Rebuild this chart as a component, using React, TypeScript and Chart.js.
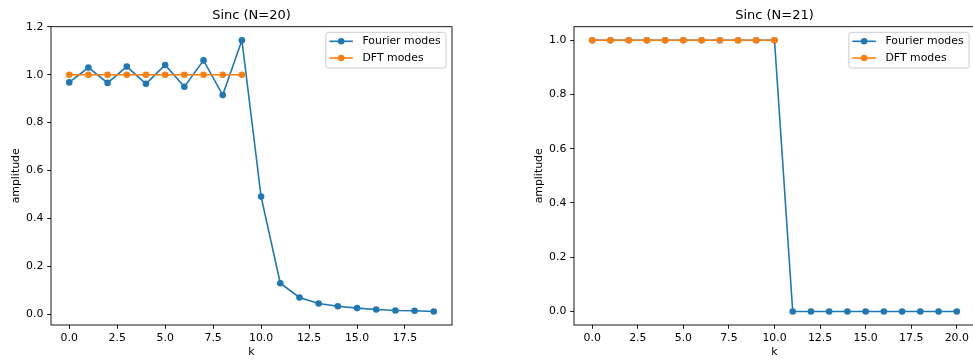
import React, { useEffect, useRef } from 'react';
import { Chart, registerables } from 'chart.js';

Chart.register(...registerables);

// ---- Data ---------------------------------------------------------------
// Sinc, N = 20
const kLeft = [0, 1, 2, 3, 4, 5, 6, 7, 8, 9, 10, 11, 12, 13, 14, 15, 16, 17, 18, 19];
const fourierLeft = [
  0.968, 1.03, 0.966, 1.034, 0.962, 1.041, 0.95, 1.06, 0.915, 1.144,
  0.491, 0.129, 0.0695, 0.0445, 0.033, 0.025, 0.0195, 0.015, 0.014, 0.011,
];
const dftKLeft = [0, 1, 2, 3, 4, 5, 6, 7, 8, 9];
const dftLeft = [1, 1, 1, 1, 1, 1, 1, 1, 1, 1];

// Sinc, N = 21
const kRight = [0, 1, 2, 3, 4, 5, 6, 7, 8, 9, 10, 11, 12, 13, 14, 15, 16, 17, 18, 19, 20];
const fourierRight = [1, 1, 1, 1, 1, 1, 1, 1, 1, 1, 1, 0, 0, 0, 0, 0, 0, 0, 0, 0, 0];
const dftKRight = [0, 1, 2, 3, 4, 5, 6, 7, 8, 9, 10];
const dftRight = [1, 1, 1, 1, 1, 1, 1, 1, 1, 1, 1];

// Tick positions
const leftXTicks = [0, 2.5, 5, 7.5, 10, 12.5, 15, 17.5];
const rightXTicks = [0, 2.5, 5, 7.5, 10, 12.5, 15, 17.5, 20];
const leftYTicks = [0, 0.2, 0.4, 0.6, 0.8, 1.0, 1.2];
const rightYTicks = [0, 0.2, 0.4, 0.6, 0.8, 1.0];

// ---- Style --------------------------------------------------------------
const BLUE = '#1f77b4';
const ORANGE = '#ff7f0e';
const FONT = '"DejaVu Sans", sans-serif';
const TICK_SIZE = 10.9;
const TITLE_SIZE = 13;
const CANVAS_W = 453;
const CANVAS_H = 360;

Chart.defaults.font.family = FONT;
Chart.defaults.color = '#000';

const toPoints = (xs: number[], ys: number[]) => xs.map((x, i) => ({ x, y: ys[i] }));

// Axes box (all four spines)
const frame = {
  id: 'frame',
  afterDraw(chart: any) {
    const { ctx, chartArea: a } = chart;
    ctx.save();
    ctx.strokeStyle = '#000';
    ctx.lineWidth = 0.9;
    ctx.strokeRect(a.left, a.top, a.right - a.left, a.bottom - a.top);
    ctx.restore();
  },
};

// Legend drawn inside the axes, upper right
const insideLegend = {
  id: 'insideLegend',
  afterDraw(chart: any) {
    const { ctx, chartArea: a } = chart;
    const items = chart.data.datasets.map((ds: any) => ({ label: ds.label, color: ds.borderColor }));
    ctx.save();
    ctx.font = `${TICK_SIZE}px ${FONT}`;
    const textW = Math.max(...items.map((it: any) => ctx.measureText(it.label).width));
    const boxW = 36.6 + textW + 5.4;
    const boxH = 35.7;
    const x0 = a.right - 6 - boxW;
    const y0 = a.top + 5.6;
    ctx.beginPath();
    (ctx as any).roundRect(x0, y0, boxW, boxH, 2.5);
    ctx.fillStyle = 'rgba(255,255,255,0.8)';
    ctx.fill();
    ctx.strokeStyle = '#cccccc';
    ctx.lineWidth = 1;
    ctx.stroke();
    items.forEach((it: any, i: number) => {
      const cy = y0 + 9 + i * 16.7;
      ctx.strokeStyle = it.color;
      ctx.lineWidth = 1.6;
      ctx.beginPath();
      ctx.moveTo(x0 + 3.6, cy);
      ctx.lineTo(x0 + 27, cy);
      ctx.stroke();
      ctx.fillStyle = it.color;
      ctx.beginPath();
      ctx.arc(x0 + 15.3, cy, 3.3, 0, Math.PI * 2);
      ctx.fill();
      ctx.fillStyle = '#000';
      ctx.textBaseline = 'middle';
      ctx.textAlign = 'left';
      ctx.fillText(it.label, x0 + 36.6, cy);
    });
    ctx.restore();
  },
};

function makeConfig(
  title: string,
  kF: number[], fF: number[], kD: number[], fD: number[],
  xMin: number, xMax: number, yMin: number, yMax: number,
  xTicks: number[], yTicks: number[],
): any {
  const series = (label: string, pts: any[], color: string, order: number) => ({
    label,
    data: pts,
    borderColor: color,
    backgroundColor: color,
    pointBackgroundColor: color,
    pointBorderWidth: 0,
    pointRadius: 3.3,
    borderWidth: 1.6,
    tension: 0,
    fill: false,
    order,
  });
  return {
    type: 'line',
    data: {
      datasets: [
        series('Fourier modes', toPoints(kF, fF), BLUE, 1),
        series('DFT modes', toPoints(kD, fD), ORANGE, 0),
      ],
    },
    options: {
      animation: false,
      responsive: false,
      devicePixelRatio: 1,
      layout: { autoPadding: false, padding: { left: 0, right: 1, top: 0, bottom: 0 } },
      plugins: {
        legend: { display: false },
        tooltip: { enabled: false },
        title: {
          display: true,
          text: title,
          fullSize: false,
          color: '#000',
          font: { size: TITLE_SIZE, weight: 'normal', family: FONT },
          padding: { top: 7.7, bottom: 3.4 },
        },
      },
      scales: {
        x: {
          type: 'linear',
          min: xMin,
          max: xMax,
          afterBuildTicks: (s: any) => { s.ticks = xTicks.map((v) => ({ value: v })); },
          afterFit: (s: any) => {
            s.height = 35;
            s.paddingLeft = 0;
            s.paddingRight = 0;
          },
          ticks: {
            callback: (v: any) => Number(v).toFixed(1),
            autoSkip: false,
            maxRotation: 0,
            padding: 2.5,
            color: '#000',
            font: { size: TICK_SIZE },
          },
          grid: { drawOnChartArea: false, drawTicks: true, tickLength: 3.8, tickColor: '#000', tickWidth: 0.9 },
          border: { display: false },
          title: { display: true, text: 'k', color: '#000', font: { size: TICK_SIZE }, padding: { top: 0, bottom: 1.5 } },
        },
        y: {
          type: 'linear',
          min: yMin,
          max: yMax,
          afterBuildTicks: (s: any) => { s.ticks = yTicks.map((v) => ({ value: v })); },
          afterFit: (s: any) => {
            s.width = 51;
            s.paddingTop = 0;
            s.paddingBottom = 0;
          },
          ticks: {
            callback: (v: any) => Number(v).toFixed(1),
            autoSkip: false,
            padding: 3.8,
            color: '#000',
            font: { size: TICK_SIZE },
          },
          grid: { drawOnChartArea: false, drawTicks: true, tickLength: 3.8, tickColor: '#000', tickWidth: 0.9 },
          border: { display: false },
          title: { display: true, text: 'amplitude', color: '#000', font: { size: TICK_SIZE }, padding: { top: 9.5, bottom: 0 } },
        },
      },
    },
    plugins: [frame, insideLegend],
  };
}

function Panel({ left, config }: { left: number; config: any }) {
  const ref = useRef<HTMLCanvasElement>(null);
  useEffect(() => {
    const chart = new Chart(ref.current as HTMLCanvasElement, config);
    return () => chart.destroy();
  }, [config]);
  return (
    <canvas
      ref={ref}
      width={CANVAS_W}
      height={CANVAS_H}
      style={{ position: 'absolute', left, top: 0, width: CANVAS_W, height: CANVAS_H }}
    />
  );
}

const leftConfig = makeConfig('Sinc (N=20)', kLeft, fourierLeft, dftKLeft, dftLeft, -0.95, 19.95, -0.0455, 1.2007, leftXTicks, leftYTicks);
const rightConfig = makeConfig('Sinc (N=21)', kRight, fourierRight, dftKRight, dftRight, -1, 21, -0.05, 1.05, rightXTicks, rightYTicks);

export default function App() {
  return (
    <div style={{ position: 'absolute', left: 0, top: 0, width: 973, height: 360, overflow: 'hidden', background: '#fff' }}>
      <Panel left={0} config={leftConfig} />
      <Panel left={523} config={rightConfig} />
    </div>
  );
}
